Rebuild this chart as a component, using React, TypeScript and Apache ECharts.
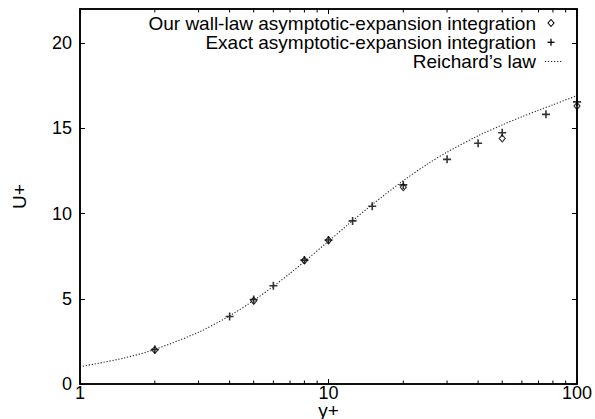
import React, { useEffect, useRef } from "react";
import * as echarts from "echarts";

// Reichard's law curve
const reichardY = [1, 1.5, 2, 3, 4, 5, 6, 7, 8, 10, 12, 15, 20, 25, 30, 40, 50, 60, 70, 80, 100];
const reichardU = [1.01, 1.52, 2.03, 3.04, 4.0, 4.9, 5.73, 6.49, 7.18, 8.38, 9.36, 10.53, 11.93, 12.9, 13.6, 14.56, 15.2, 15.68, 16.06, 16.38, 16.92];

// Our wall-law asymptotic-expansion integration (diamonds)
const ourY = [2, 5, 8, 10, 20, 50, 100];
const ourU = [2.0, 4.88, 7.25, 8.43, 11.55, 14.41, 16.31];

// Exact asymptotic-expansion integration (plus)
const exactY = [2, 4, 5, 6, 8, 10, 12.5, 15, 20, 30, 40, 50, 75, 100];
const exactU = [2.02, 3.96, 4.96, 5.76, 7.27, 8.45, 9.57, 10.43, 11.68, 13.18, 14.12, 14.74, 15.82, 16.55];

// Log-axis minor tick positions
const minorTicks = [2, 3, 4, 5, 6, 7, 8, 9, 20, 30, 40, 50, 60, 70, 80, 90];

const seriesNames = [
  "Our wall-law asymptotic-expansion integration",
  "Exact asymptotic-expansion integration",
  "Reichard\u2019s law",
];

const FONT = "'Liberation Sans', Arial, Helvetica, sans-serif";
const Y_MAX = 22;
const PLUS = "path://M4,0H6V4H10V6H6V10H4V6H0V4H4Z";
const GRID = { left: 80, right: 18, top: 9, bottom: 35 };
const W = 595;
const H = 419;

const mkLine = () => ({ show: true, onZero: false, lineStyle: { color: "#000", width: 1.6 } });
const mkTick = () => ({ show: true, inside: true, length: 5, lineStyle: { color: "#000", width: 1 } });

export default function App() {
  const ref = useRef<HTMLDivElement>(null);

  useEffect(() => {
    if (!ref.current) return;
    const chart = echarts.init(ref.current, null, { renderer: "svg" });

    // legend drawn as graphic elements (gnuplot style: text, then sample)
    const rows = [23, 42.3, 61.5];
    const textRight = 536;
    const sx = 551;
    const g: any[] = [];
    // plot frame
    g.push({
      type: "rect",
      z: 100,
      shape: { x: GRID.left, y: GRID.top, width: W - GRID.left - GRID.right, height: H - GRID.top - GRID.bottom },
      style: { fill: "none", stroke: "#000", lineWidth: 1.6 },
      silent: true,
    });
    seriesNames.forEach((n, i) => {
      g.push({
        type: "text",
        x: textRight,
        y: rows[i],
        style: { text: n, fill: "#000", font: `19px ${FONT}`, align: "right", verticalAlign: "middle" },
      });
    });
    g.push({
      type: "polygon",
      shape: { points: [[sx, rows[0] - 3.5], [sx + 3, rows[0]], [sx, rows[0] + 3.5], [sx - 3, rows[0]]] },
      style: { fill: "#fff", stroke: "#000", lineWidth: 1.1 },
    });
    g.push({
      type: "line",
      shape: { x1: sx - 3.5, y1: rows[1], x2: sx + 3.5, y2: rows[1] },
      style: { stroke: "#000", lineWidth: 1.3 },
    });
    g.push({
      type: "line",
      shape: { x1: sx, y1: rows[1] - 3.5, x2: sx, y2: rows[1] + 3.5 },
      style: { stroke: "#000", lineWidth: 1.3 },
    });
    g.push({
      type: "line",
      shape: { x1: 545, y1: rows[2], x2: 563, y2: rows[2] },
      style: { stroke: "#222", lineWidth: 1.1, lineDash: [1.2, 1.8] },
    });

    const option = {
      animation: false,
      backgroundColor: "#fff",
      grid: { ...GRID, outerBoundsMode: "none" },
      graphic: { elements: g },
      xAxis: [
        {
          type: "log",
          min: 1,
          max: 100,
          position: "bottom",
          name: "y+",
          nameLocation: "middle",
          nameGap: 18,
          nameMoveOverlap: false,
          nameTextStyle: { fontFamily: FONT, fontSize: 19, color: "#000", lineHeight: 16 },
          axisLine: mkLine(),
          axisTick: mkTick(),
          axisLabel: { fontFamily: FONT, fontSize: 18, color: "#000", margin: 1, lineHeight: 16, formatter: (v: number) => String(v) },
          splitLine: { show: false },
        },
        {
          type: "log",
          min: 1,
          max: 100,
          position: "top",
          axisLine: mkLine(),
          axisTick: mkTick(),
          axisLabel: { show: false },
          splitLine: { show: false },
        },
      ],
      yAxis: [
        {
          type: "value",
          min: 0,
          max: Y_MAX,
          interval: 5,
          position: "left",
          name: "U+",
          nameLocation: "middle",
          nameGap: 51,
          nameRotate: 90,
          nameMoveOverlap: false,
          nameTextStyle: { fontFamily: FONT, fontSize: 19, color: "#000" },
          axisLine: mkLine(),
          axisTick: mkTick(),
          axisLabel: {
            fontFamily: FONT,
            fontSize: 18,
            color: "#000",
            margin: 8,
            showMaxLabel: false,
            formatter: (v: number) => (v % 5 === 0 ? String(v) : ""),
          },
          splitLine: { show: false },
        },
        {
          type: "value",
          min: 0,
          max: Y_MAX,
          interval: 5,
          position: "right",
          axisLine: mkLine(),
          axisTick: mkTick(),
          axisLabel: { show: false },
          splitLine: { show: false },
        },
      ],
      series: [
        {
          type: "custom",
          clip: false,
          data: minorTicks.map((v) => [v, 0]),
          encode: { x: 0, y: 1 },
          z: 10,
          renderItem: (params: any, api: any) => {
            const x = api.value(0);
            const b = api.coord([x, 0]);
            const t = api.coord([x, Y_MAX]);
            return {
              type: "group",
              children: [
                { type: "line", shape: { x1: b[0], y1: b[1], x2: b[0], y2: b[1] - 3.5 }, style: { stroke: "#000", lineWidth: 1 } },
                { type: "line", shape: { x1: t[0], y1: t[1], x2: t[0], y2: t[1] + 3.5 }, style: { stroke: "#000", lineWidth: 1 } },
              ],
            };
          },
        },
        {
          name: seriesNames[0],
          type: "scatter",
          clip: false,
          symbol: "diamond",
          symbolSize: [6, 7],
          itemStyle: { color: "#fff", borderColor: "#000", borderWidth: 1.2 },
          data: ourY.map((y, i) => [y, ourU[i]]),
          z: 3,
        },
        {
          name: seriesNames[1],
          type: "scatter",
          clip: false,
          symbol: PLUS,
          symbolSize: 8,
          itemStyle: { color: "#000" },
          data: exactY.map((y, i) => [y, exactU[i]]),
          z: 4,
        },
        {
          name: seriesNames[2],
          type: "line",
          smooth: 0.3,
          symbol: "none",
          showSymbol: false,
          lineStyle: { color: "#222", width: 1.1, type: [1.2, 1.8] },
          data: reichardY.map((y, i) => [y, reichardU[i]]),
          z: 5,
        },
      ],
    };
    chart.setOption(option as any);
    return () => chart.dispose();
  }, []);

  return (
    <div
      ref={ref}
      style={{ position: "fixed", left: 0, top: 0, width: W, height: H, background: "#fff" }}
    />
  );
}
